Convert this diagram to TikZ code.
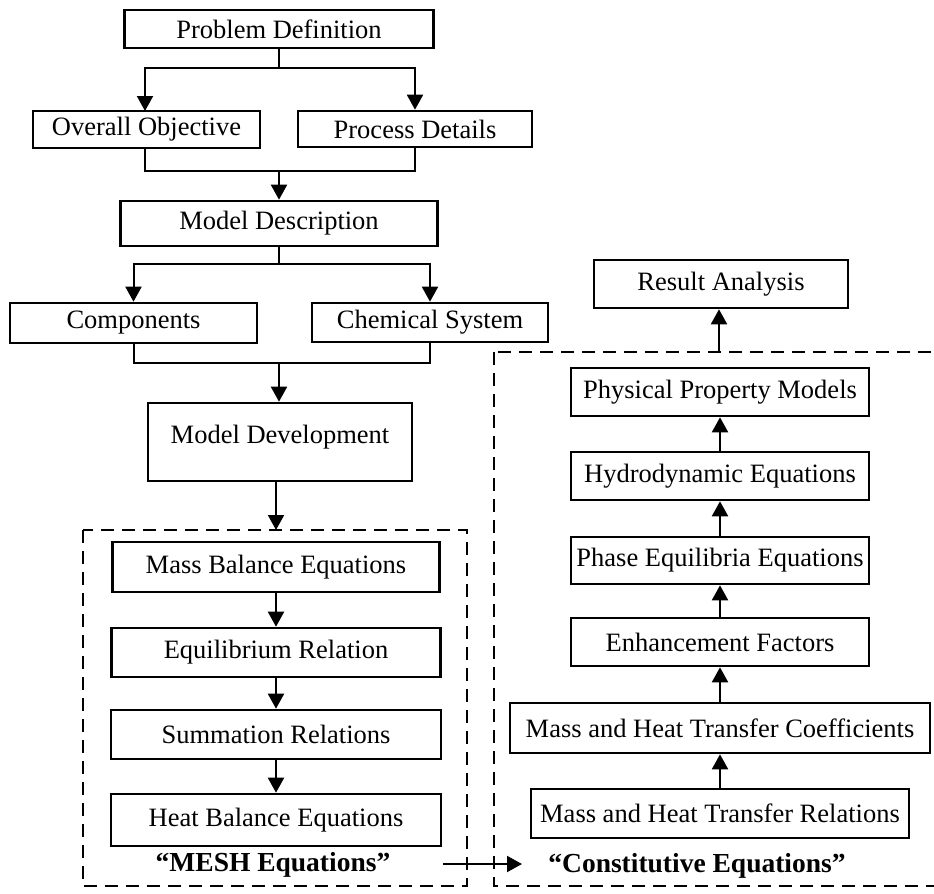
\documentclass[tikz,border=0pt]{standalone}
\usepackage{fontspec}
\setmainfont{Liberation Serif}
\usepackage{tikz}
\usetikzlibrary{arrows.meta}

\begin{document}
\begin{tikzpicture}[x=1bp, y=-1bp,
          stepbox/.style={draw, line width=2.6bp, inner sep=0pt, align=center,
                          font=\fontsize{26.5bp}{30bp}\selectfont},
          arr/.style={line width=2bp, -{Triangle[length=15bp, width=16bp]}},
          plain/.style={line width=2bp},
          dashbox/.style={line width=2.4bp, dash pattern=on 13bp off 8bp},
          tag/.style={font=\fontsize{27.5bp}{30bp}\selectfont\bfseries, inner sep=0pt}
        ]
        \useasboundingbox (0,0) rectangle (934,894);

        % upper chain
        \node[stepbox, minimum width=309bp, minimum height=38bp] (pd) at (279,29) {Problem Definition};
        \node[stepbox, minimum width=227bp, minimum height=37bp] (oo) at (146.5,129.5) {Overall Objective};
        \node[stepbox, minimum width=234bp, minimum height=36bp] (prd) at (415,129) {Process Details};
        \node[stepbox, minimum width=317bp, minimum height=45bp] (md) at (279,223.5) {Model Description};
        \node[stepbox, minimum width=247bp, minimum height=40bp] (comp) at (133.5,323) {Components};
        \node[stepbox, minimum width=236bp, minimum height=39bp] (chem) at (430,322.5) {Chemical System};
        \node[stepbox, minimum width=264bp, minimum height=78bp, text depth=16bp] (mdev) at (280,442) {Model Development};

        % MESH equations
        \node[stepbox, minimum width=327bp, minimum height=50bp] (mbe) at (276,567) {Mass Balance Equations};
        \node[stepbox, minimum width=329bp, minimum height=49bp] (eqr) at (276,652.5) {Equilibrium Relation};
        \node[stepbox, minimum width=330bp, minimum height=49bp] (sumr) at (276,734.5) {Summation Relations};
        \node[stepbox, minimum width=330bp, minimum height=52bp] (hbe) at (276,820) {Heat Balance Equations};
        \node[tag] (mesh) at (273,865) {“MESH Equations”};

        % constitutive equations
        \node[stepbox, minimum width=254bp, minimum height=48bp] (ra) at (721,284) {Result Analysis};
        \node[stepbox, minimum width=298bp, minimum height=48bp] (ppm) at (720,392) {Physical Property Models};
        \node[stepbox, minimum width=298bp, minimum height=48bp] (hyd) at (720,476) {Hydrodynamic Equations};
        \node[stepbox, minimum width=298bp, minimum height=47bp] (peq) at (720,560.5) {Phase Equilibria Equations};
        \node[stepbox, minimum width=298bp, minimum height=48bp] (enh) at (720,642) {Enhancement Factors};
        \node[stepbox, minimum width=420bp, minimum height=50bp] (mhtc) at (720,728) {Mass and Heat Transfer Coefficients};
        \node[stepbox, minimum width=378bp, minimum height=49bp] (mhtr) at (720,813.5) {Mass and Heat Transfer Relations};
        \node[tag] (cons) at (697,866) {“Constitutive Equations”};

        % dashed groups
        \draw[dashbox] (83,530) rectangle (467,886);
        \draw[dashbox] (494,352) rectangle (945,886);

        % junctions
        \coordinate (j1) at (279,68);
        \coordinate (j2) at (279,171);
        \coordinate (j3) at (279,264);
        \coordinate (j4) at (279,363);
        \coordinate (ltop) at (276,530);
        \coordinate (rtop) at (719,352);
        \coordinate (m1) at (443,864);
        \coordinate (m2) at (522,864);

        \draw[plain] (pd.south) -- (j1);
        \draw[arr] (j1) -| (145,111);
        \draw[arr] (j1) -| (prd.north);
        \draw[plain] (145,148) |- (j2) -| (prd.south);
        \draw[arr] (j2) -- (md.north);
        \draw[plain] (md.south) -- (j3);
        \draw[arr] (j3) -| (comp.north);
        \draw[arr] (j3) -| (chem.north);
        \draw[plain] (comp.south) |- (j4) -| (chem.south);
        \draw[arr] (j4) -- (mdev.north -| j4);
        \draw[arr] (mdev.south -| ltop) -- (ltop);

        \draw[arr] (mbe) -- (eqr);
        \draw[arr] (eqr) -- (sumr);
        \draw[arr] (sumr) -- (hbe);

        \draw[arr] (mhtr) -- (mhtc);
        \draw[arr] (mhtc) -- (enh);
        \draw[arr] (enh) -- (peq);
        \draw[arr] (peq) -- (hyd);
        \draw[arr] (hyd) -- (ppm);
        \draw[arr] (rtop) -- (rtop |- ra.south);

        \draw[arr] (m1) -- (m2);
      \end{tikzpicture}
\end{document}
